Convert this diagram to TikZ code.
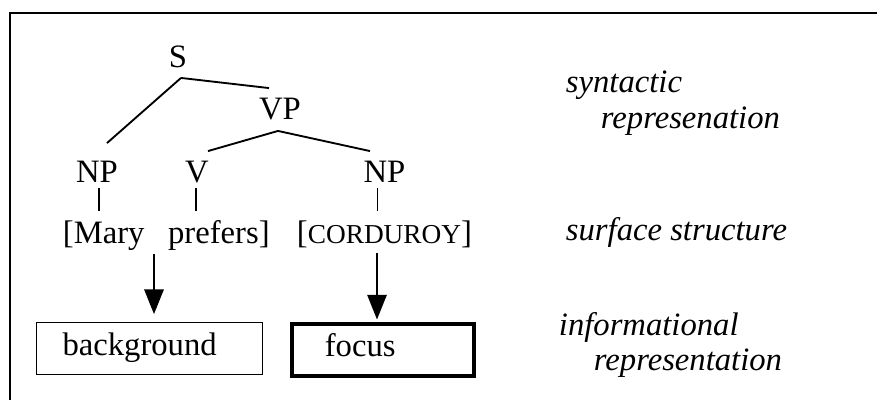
\documentclass[tikz,border=0pt]{standalone}
\usepackage{fontspec}
\setmainfont{Liberation Serif}
\usetikzlibrary{arrows.meta,calc}

\tikzset{every picture/.style={line width=1.4pt}}
\tikzset{
  lbl/.style={inner sep=0pt, font=\fontsize{24.5}{29}\selectfont},
  cat/.style={lbl, anchor=base, text height=16.2pt, text depth=0pt},
  surf/.style={lbl, anchor=base west, text height=17.2pt, text depth=6.1pt},
  note/.style={lbl, anchor=base west, font=\fontsize{24.5}{29}\selectfont\itshape},
  infobox/.style={lbl, draw, align=left, text height=17.2pt, text depth=6.1pt, minimum height=39pt},
  arr/.style={-{Triangle[length=18.5pt,width=14.5pt]}},
}

\begin{document}
\begin{tikzpicture}[x=0.75pt,y=0.75pt,yscale=-1,xscale=1]
\useasboundingbox (0,0) rectangle (877,400);

%Shape: Frame
\draw [line width=1.5pt] (877,12.5) -| (9.5,400) ;

% Tree nodes
\node (s) [cat] at (178,67) {S};
\node (vp) [cat] at (280,119) {VP};
\node (np1) [cat] at (97,182) {NP};
\node (v) [cat] at (197,182) {V};
\node (np2) [cat] at (384.5,182) {NP};

% Branches
\coordinate (stop) at ($(s.south)+(3,10)$);
\coordinate (vptop) at ($(vp.south)+(-2,11)$);
\draw (stop) -- ($(np1.north)+(10,-16.4)$) ;
\draw (stop) -- ($(vp.north)+(-11,-8.4)$) ;
\draw (vptop) -- ($(v.north)+(11,-8.4)$) ;
\draw (vptop) -- ($(np2.north)+(-14.5,-8.4)$) ;

% Surface structure
\node (mary) [surf] at (62,243) {[Mary\hspace{0.72em}prefers]};
\node (cord) [surf] at (296,243) {[{\fontsize{20.5}{24}\selectfont CORDUROY}]};

% Ticks
\foreach \n/\dx in {np1/2, v/-1, np2/-7}
  \draw ($(\n.south)+(\dx,5)$) -- ++(0,23) ;

% Informational boxes
\node (bg) [infobox, line width=1.3pt, inner xsep=19.5pt, text width=130.5pt] at (149.5,348.5) {background};
\node (fc) [infobox, line width=3pt, inner xsep=25pt, text width=86.5pt] at (382.5,349.5) {focus};

% Arrows
\draw [arr] ($(mary.south -| bg.north)+(4.5,2)$) -- ($(bg.north)+(4.5,-7.5)$) ;
\draw [arr] ($(cord.south -| fc.north)+(-5.5,1)$) -- ($(fc.north)+(-5.5,-2)$) ;

% Level notes
\node (syn1) [note] at (565,92) {syntactic};
\node (syn2) [note] at (600,128) {represenation};
\node (sfc) [note] at (565,240) {surface structure};
\node (inf1) [note] at (558,335) {informational};
\node (inf2) [note] at (593,370) {representation};

\end{tikzpicture}
\end{document}
